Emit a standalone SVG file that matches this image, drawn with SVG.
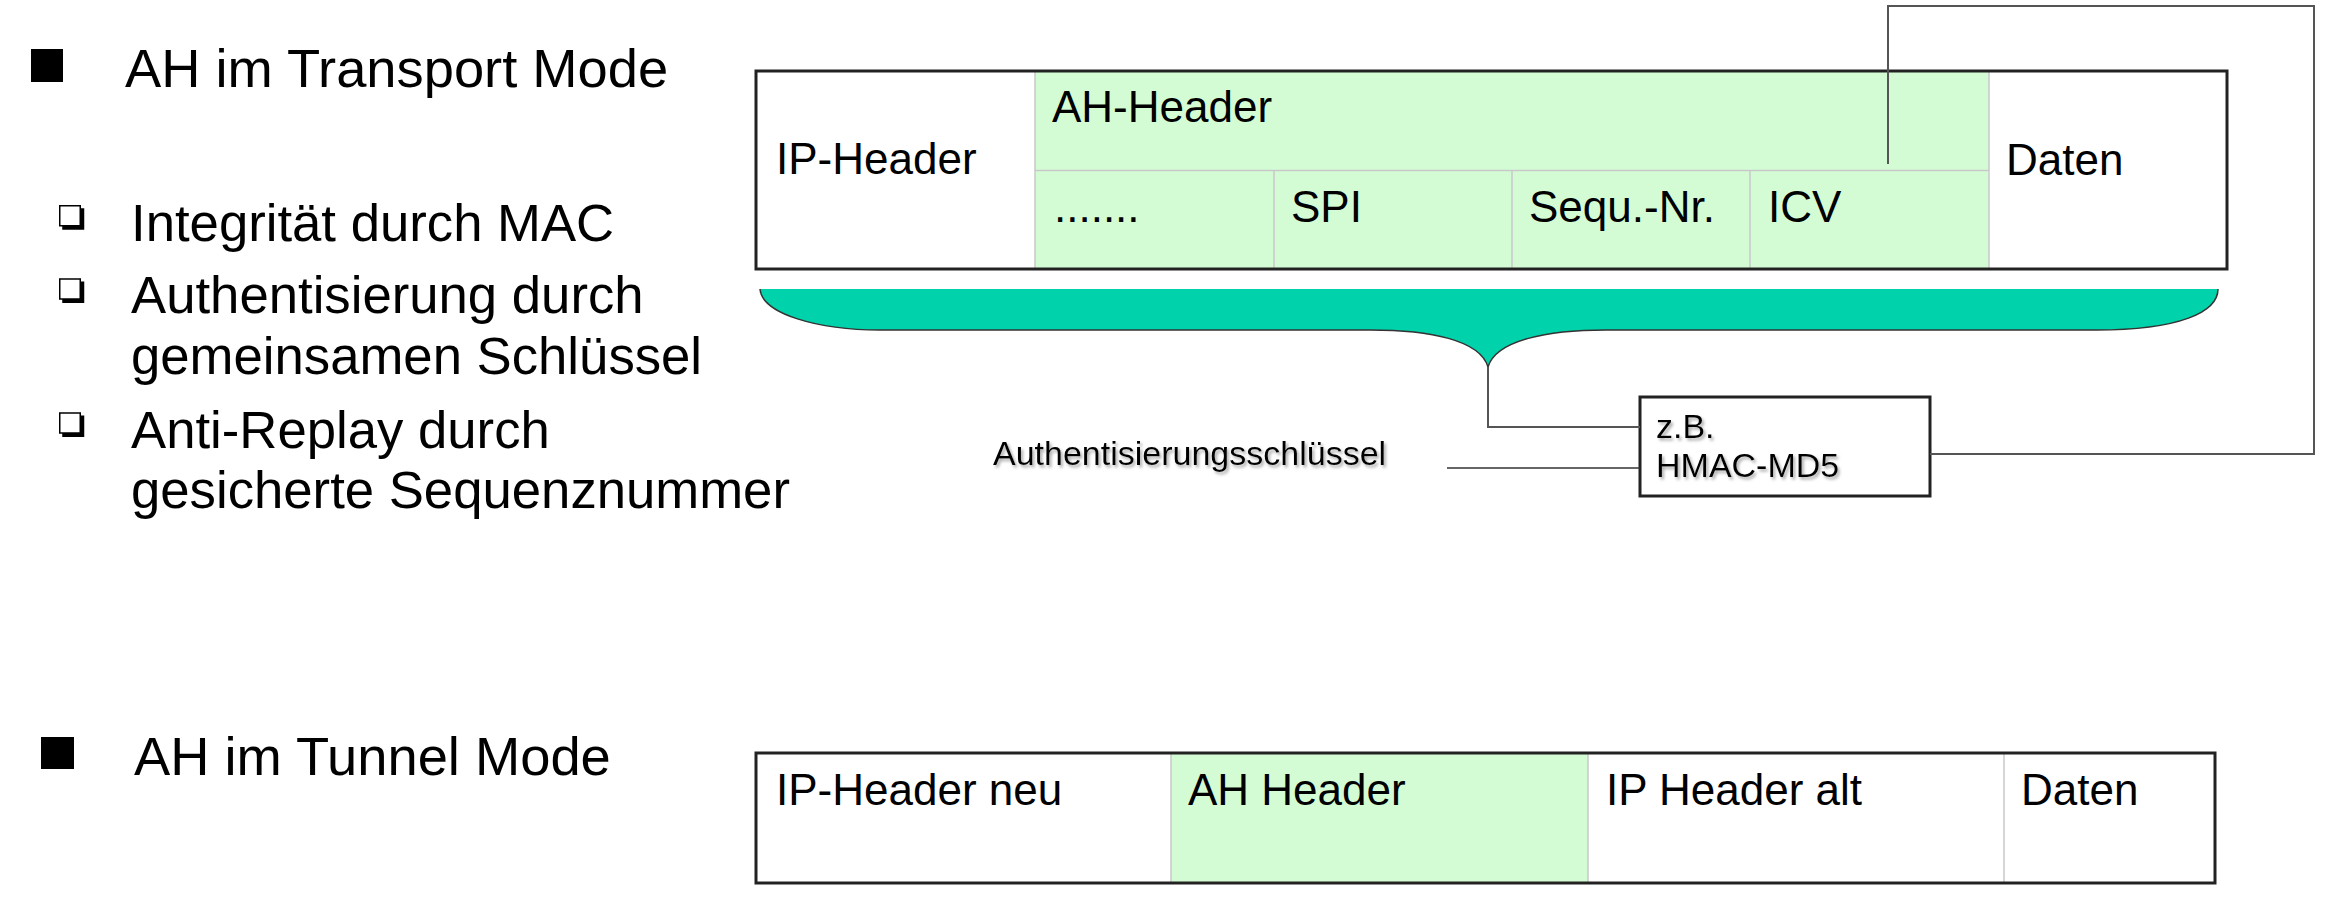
<svg xmlns="http://www.w3.org/2000/svg" width="2326" height="905" viewBox="0 0 2326 905">
<defs>
<style>
text{font-family:"Liberation Sans",Arial,sans-serif;fill:#000}
.title{font-size:54.3px}
.item{font-size:52.7px}
.cell{font-size:44px}
.small{font-size:34px}
.frame{fill:none;stroke:#222;stroke-width:3}
.green{fill:#d4fcd4}
.div{stroke:#c8c8c8;stroke-width:1.5;fill:none}
.conn{fill:none;stroke:#555;stroke-width:2}
.key{fill:none;stroke:#333;stroke-width:1.5}
</style>
<filter id="sh" x="-5%" y="-30%" width="110%" height="160%">
<feDropShadow dx="2" dy="2.5" stdDeviation="1.5" flood-color="#888" flood-opacity="0.7"/>
</filter>
<g id="hb">
<rect x="2.5" y="2.5" width="22" height="21.5" fill="#000"/>
<rect x="0" y="0" width="20.5" height="20" fill="#fff" stroke="#000" stroke-width="1.5"/>
</g>
</defs>
<rect width="2326" height="905" fill="#fff"/>

<g id="transport-text">
<rect x="31" y="49" width="32" height="33" fill="#000"/>
<text class="title" x="125" y="87">AH im Transport Mode</text>
<use href="#hb" x="59.75" y="205.75"/>
<text class="item" x="131" y="241">Integrität durch MAC</text>
<use href="#hb" x="59.75" y="279"/>
<text class="item" x="131" y="313">Authentisierung durch</text>
<text class="item" x="131" y="374">gemeinsamen Schlüssel</text>
<use href="#hb" x="59.75" y="413"/>
<text class="item" x="131" y="448">Anti-Replay durch</text>
<text class="item" x="131" y="508">gesicherte Sequenznummer</text>
</g>

<g id="transport-packet">
<rect class="green" x="1035" y="71" width="954" height="198"/>
<line class="div" x1="1035" y1="71" x2="1035" y2="269"/>
<line class="div" x1="1989" y1="71" x2="1989" y2="269"/>
<line class="div" x1="1035" y1="170.5" x2="1989" y2="170.5"/>
<line class="div" x1="1274" y1="170.5" x2="1274" y2="269"/>
<line class="div" x1="1512" y1="170.5" x2="1512" y2="269"/>
<line class="div" x1="1750" y1="170.5" x2="1750" y2="269"/>
<rect class="frame" x="756" y="71" width="1471" height="198"/>
<text class="cell" x="776" y="174">IP-Header</text>
<text class="cell" x="1052" y="122">AH-Header</text>
<text class="cell" x="1054" y="222">.......</text>
<text class="cell" x="1291" y="222">SPI</text>
<text class="cell" x="1529" y="222">Sequ.-Nr.</text>
<text class="cell" x="1768" y="222">ICV</text>
<text class="cell" x="2006" y="175">Daten</text>
</g>

<g id="brace">
<path d="M760 289 L2218 289 C2218 312 2180 330 2096 330 L1606 330 C1548 330 1496 340 1488 367 C1480 340 1430 330 1370 330 L880 330 C818 330 762 314 760 289 Z" fill="#00d3ab"/>
<path d="M760 289 C762 314 818 330 880 330 L1370 330 C1430 330 1480 340 1488 367 C1496 340 1548 330 1606 330 L2096 330 C2180 330 2218 312 2218 289" fill="none" stroke="#333" stroke-width="1.5"/>
</g>

<g id="hmac">
<rect class="frame" x="1640" y="397" width="290" height="99" fill="#fff"/>
<text class="small" x="1656" y="438" filter="url(#sh)">z.B.</text>
<text class="small" x="1656" y="477" filter="url(#sh)">HMAC-MD5</text>
</g>

<g id="key-label">
<text class="small" x="993" y="465" filter="url(#sh)">Authentisierungsschlüssel</text>
</g>

<g id="connectors">
<polyline class="conn" points="1488,367 1488,427 1640,427"/>
<line class="key" x1="1447" y1="468" x2="1640" y2="468"/>
<polyline class="conn" points="1930,454 2314,454 2314,6 1888,6 1888,164"/>
</g>

<g id="tunnel-text">
<rect x="41" y="737" width="33" height="32" fill="#000"/>
<text class="title" x="134" y="775">AH im Tunnel Mode</text>
</g>

<g id="tunnel-packet">
<rect class="green" x="1171" y="753" width="417" height="130"/>
<line class="div" x1="1171" y1="753" x2="1171" y2="883"/>
<line class="div" x1="1588" y1="753" x2="1588" y2="883"/>
<line class="div" x1="2004" y1="753" x2="2004" y2="883"/>
<rect class="frame" x="756" y="753" width="1459" height="130"/>
<text class="cell" x="776" y="805">IP-Header neu</text>
<text class="cell" x="1188" y="805">AH Header</text>
<text class="cell" x="1606" y="805">IP Header alt</text>
<text class="cell" x="2021" y="805">Daten</text>
</g>
</svg>
